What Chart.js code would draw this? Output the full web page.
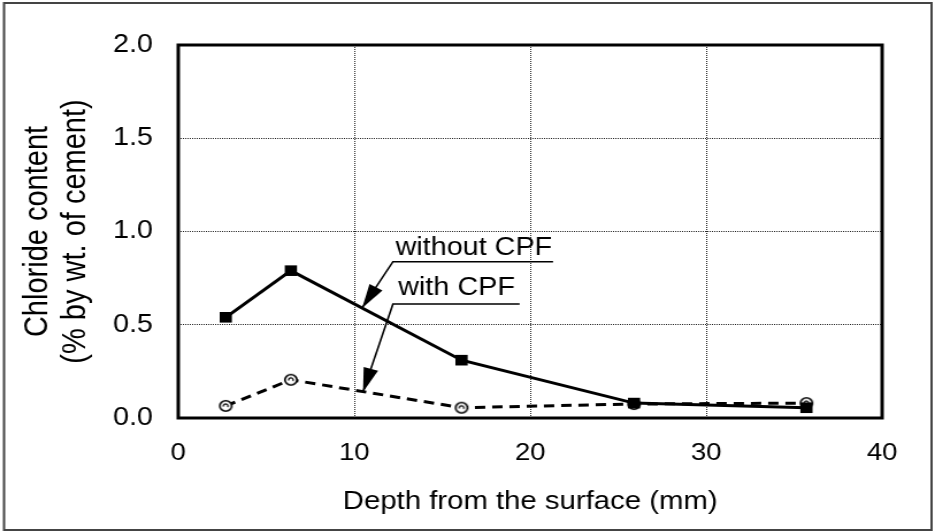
<!DOCTYPE html>
<html><head><meta charset="utf-8">
<script src="https://cdn.jsdelivr.net/npm/chart.js@4"></script>
<style>html,body{margin:0;padding:0;background:#fff;overflow:hidden}canvas{display:block}</style>
</head><body>
<canvas id="c" width="813" height="532" style="width:935px;height:532px"></canvas>
<script>
// ---- data ----
const depth = [2.7, 6.4, 16.1, 25.9, 35.7];
const withoutCPF = [0.54, 0.79, 0.31, 0.08, 0.055];
const withCPF = [0.065, 0.205, 0.055, 0.075, 0.08];
const xTicks = [0, 10, 20, 30, 40];
const yTicks = [0.0, 0.5, 1.0, 1.5, 2.0];
const seriesNames = ['without CPF', 'with CPF'];
const xTitle = 'Depth from the surface (mm)';
const yTitle = ['Chloride content', '(% by wt. of cement)'];
// annotation anchors (data units)
const noteTextX = [12.35, 12.5];
const noteTextY = [0.875, 0.66];
const noteLineY = [0.838, 0.611];
const noteLineStartX = [12.2, 12.2];
const noteLineEndX = [21.3, 19.4];
const noteTipX = [10.45, 10.5];
const noteTipY = [0.59, 0.14];

const FONT = "'Liberation Sans', Arial, Helvetica, sans-serif";

const pts = (ys) => depth.map((d, i) => ({x: d, y: ys[i]}));

// open circle marker with a small inner mark
const circ = document.createElement('canvas');
circ.width = 14; circ.height = 14;
(() => {
  const g = circ.getContext('2d');
  g.fillStyle = '#fff'; g.strokeStyle = '#000'; g.lineWidth = 1.6;
  g.beginPath(); g.arc(7, 7, 5.2, 0, Math.PI * 2); g.fill(); g.stroke();
  g.lineWidth = 1.3;
  g.beginPath(); g.arc(7, 7, 2, Math.PI * 0.9, Math.PI * 2.2); g.stroke();
})();

const decor = {
  id: 'decor',
  beforeDraw(chart) {
    const c = chart.ctx;
    c.save(); c.fillStyle = '#fff'; c.fillRect(0, 0, chart.width, chart.height); c.restore();
  },
  afterDraw(chart) {
    const c = chart.ctx, a = chart.chartArea, sx = chart.scales.x, sy = chart.scales.y;
    c.save();
    c.strokeStyle = '#000'; c.lineWidth = 3;
    c.strokeRect(a.left, a.top, a.right - a.left, a.bottom - a.top);
    c.strokeStyle = '#444'; c.lineWidth = 2;
    c.strokeRect(3.5, 3, chart.width - 6.5, chart.height - 5);
    c.fillStyle = '#000'; c.strokeStyle = '#000';
    c.font = '25px ' + FONT; c.textBaseline = 'alphabetic'; c.textAlign = 'left';
    for (let i = 0; i < seriesNames.length; i++) {
      c.fillText(seriesNames[i], sx.getPixelForValue(noteTextX[i]), sy.getPixelForValue(noteTextY[i]));
      const x0 = sx.getPixelForValue(noteLineStartX[i]), y0 = sy.getPixelForValue(noteLineY[i]);
      const x1 = sx.getPixelForValue(noteLineEndX[i]);
      const tx = sx.getPixelForValue(noteTipX[i]), ty = sy.getPixelForValue(noteTipY[i]);
      c.lineWidth = 1.6;
      c.beginPath(); c.moveTo(x1, y0); c.lineTo(x0, y0); c.lineTo(tx, ty); c.stroke();
      const ang = Math.atan2(ty - y0, tx - x0);
      const L = 24, W = 6.5;
      const bx = tx - L * Math.cos(ang), by = ty - L * Math.sin(ang);
      c.beginPath();
      c.moveTo(tx, ty);
      c.lineTo(bx + W * Math.sin(ang), by - W * Math.cos(ang));
      c.lineTo(bx - W * Math.sin(ang), by + W * Math.cos(ang));
      c.closePath(); c.fill();
    }
    c.restore();
  }
};

const gridColor = (ctx, lo, hi) => (ctx.tick && (ctx.tick.value === lo || ctx.tick.value === hi)) ? 'rgba(0,0,0,0)' : '#222';

new Chart(document.getElementById('c'), {
  type: 'scatter',
  data: {
    datasets: [
      {
        label: seriesNames[0], data: pts(withoutCPF), showLine: true,
        borderColor: '#000', borderWidth: 3, backgroundColor: '#000',
        pointStyle: 'rect', pointRadius: 7.5, pointBackgroundColor: '#000', pointBorderColor: '#000', pointBorderWidth: 0,
        order: 1
      },
      {
        label: seriesNames[1], data: pts(withCPF), showLine: true,
        borderColor: '#000', borderWidth: 3, borderDash: [9, 6],
        pointStyle: circ, pointRadius: 6,
        order: 2
      }
    ]
  },
  options: {
    responsive: false, animation: false, devicePixelRatio: 1,
    layout: {padding: {top: 45, right: 46, left: 0, bottom: 0}},
    plugins: {legend: {display: false}, tooltip: {enabled: false}},
    scales: {
      x: {
        type: 'linear', min: xTicks[0], max: xTicks[xTicks.length - 1],
        afterBuildTicks: s => { s.ticks = xTicks.map(v => ({value: v})); },
        afterFit: s => { s.height = 114; },
        ticks: {font: {size: 24, family: FONT}, color: '#000', padding: 21, maxRotation: 0},
        grid: {drawTicks: false, lineWidth: 1, color: ctx => gridColor(ctx, 0, 40)},
        border: {display: false, dash: [1, 1]},
        title: {display: true, text: xTitle, color: '#000', font: {size: 25.5, family: FONT}, padding: {top: 0, bottom: 15}}
      },
      y: {
        type: 'linear', min: yTicks[0], max: yTicks[yTicks.length - 1],
        afterBuildTicks: s => { s.ticks = yTicks.map(v => ({value: v})); },
        afterFit: s => { s.width = 155; },
        ticks: {font: {size: 25, family: FONT}, color: '#000', padding: 22, callback: v => Number(v).toFixed(1)},
        grid: {drawTicks: false, lineWidth: 1, color: ctx => gridColor(ctx, 0, 2)},
        border: {display: false, dash: [1, 1]},
        title: {display: true, text: yTitle, color: '#000', font: {size: 29, family: FONT, lineHeight: '33px'}, padding: {top: 16, bottom: 0}}
      }
    }
  },
  plugins: [decor]
});
</script>
</body></html>
